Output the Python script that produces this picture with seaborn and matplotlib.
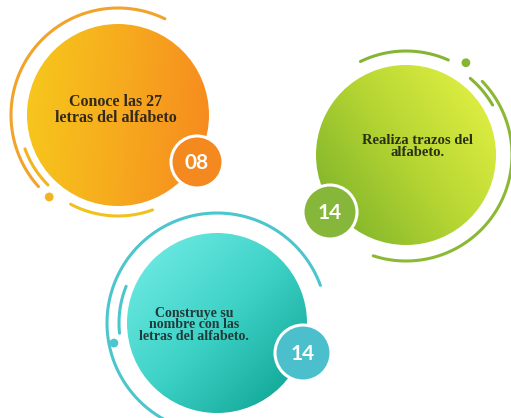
import numpy as np
import matplotlib.pyplot as plt
import seaborn as sns
from matplotlib.colors import LinearSegmentedColormap
from matplotlib.patches import Circle

sns.set_theme(style="white")

# contenido
labels = [
    "Conoce las 27\nletras del alfabeto",
    "Realiza trazos del\nalfabeto.",
    "Construye su\nnombre con las\nletras del alfabeto.",
]
numbers = ["08", "14", "14"]
grad_colors = [
    ["#f7c61c", "#f6ab1e", "#f78c1f"],
    ["#86b82b", "#b5d533", "#dbec40"],
    ["#66e6de", "#3ed2c7", "#17ad9d"],
]
badge_colors = ["#f3891f", "#86b73a", "#4cbfcc"]
text_colors = ["#33291a", "#2a2f14", "#1f3a38"]

# layout en pixeles (y hacia abajo)
centers = [(118, 115), (406, 155), (217, 323)]
radii = [91, 90, 90]
grad_dirs = [-5, 35, -45]
badge_pos = [(197, 162), (330, 212), (303, 353)]
badge_r = [26, 27, 28]
text_pos = [(116, 110), (418, 146), (194, 325)]
text_size = [11.5, 10.5, 10]
line_sp = [0.95, 0.9, 0.8]

# arcos: (radio, ang1, ang2, color)
arcs = [
    [(107, 64, 222, "#f2a32a"), (99, 200, 225, "#f1b423"), (101, 242, 290, "#f1c21e")],
    [(104, 66, 116, "#86b534"), (100, 30, 50, "#86b534"), (106, -108, 44, "#8cb934")],
    [(110, 20, 244, "#4cc6cd"), (98, 158, 186, "#4cc6cd")],
]
dots = [(107, 230, "#f1b423"), (110, 57, "#86b534"), (105, 191, "#4cc6cd")]

fig = plt.figure(figsize=(5.11, 4.18), dpi=100)
ax = fig.add_axes([0, 0, 1, 1])
ax.set_xlim(0, 511)
ax.set_ylim(418, 0)
ax.set_aspect("equal")
ax.axis("off")


def arc_xy(c, r, t1, t2):
    t = np.radians(np.linspace(t1, t2, 200))
    return c[0] + r * np.cos(t), c[1] - r * np.sin(t)


for i in range(3):
    cx, cy = centers[i]
    r = radii[i]
    # degradado dentro del circulo
    g = np.linspace(-1, 1, 300)
    X, Y = np.meshgrid(g, -g)
    a = np.radians(grad_dirs[i])
    T = (X * np.cos(a) + Y * np.sin(a) + 1) / 2
    cmap = LinearSegmentedColormap.from_list("g%d" % i, grad_colors[i])
    im = ax.imshow(T, cmap=cmap, vmin=0, vmax=1, origin="upper",
                   extent=(cx - r, cx + r, cy + r, cy - r), zorder=2)
    clip = Circle((cx, cy), r, transform=ax.transData)
    im.set_clip_path(clip)

    for (ar, t1, t2, col) in arcs[i]:
        x, y = arc_xy(centers[i], ar, t1, t2)
        ax.plot(x, y, color=col, lw=2.2, solid_capstyle="round", zorder=1)

    dr, dt, dcol = dots[i]
    dx, dy = arc_xy(centers[i], dr, dt, dt)
    sns.scatterplot(x=dx[:1], y=dy[:1], color=dcol, s=40, edgecolor="none",
                    ax=ax, zorder=3, legend=False)

    ax.text(text_pos[i][0], text_pos[i][1], labels[i], ha="center", va="center",
            fontsize=text_size[i], color=text_colors[i], family="Liberation Serif",
            fontweight="bold", linespacing=line_sp[i], zorder=5)

    bx, by = badge_pos[i]
    ax.add_patch(Circle((bx, by), badge_r[i], facecolor=badge_colors[i],
                        edgecolor="white", lw=2.2, zorder=6))
    ax.text(bx, by + 1, numbers[i], ha="center", va="center", fontsize=15,
            fontweight="bold", color="white", family="Lato", zorder=7)

fig.savefig("out.png", dpi=100, facecolor="white")
